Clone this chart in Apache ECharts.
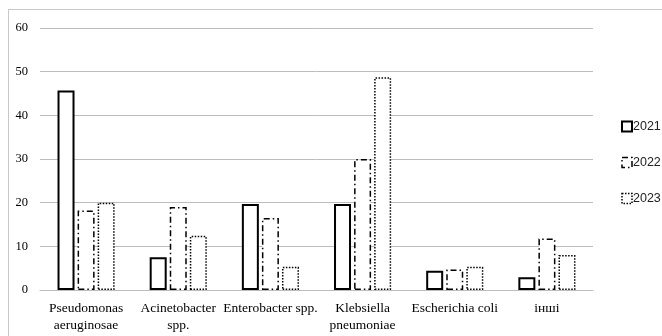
<!DOCTYPE html>
<html>
<head>
<meta charset="utf-8">
<script src="https://cdn.jsdelivr.net/npm/echarts@6/dist/echarts.min.js"></script>
<style>
  html, body { margin: 0; padding: 0; background: #fff; }
  #frame {
    position: absolute; left: 8px; top: 9px; width: 700px; height: 400px;
    border: 1px solid #c8c8c8; box-sizing: border-box;
  }
  #main { position: absolute; left: 0; top: 0; width: 662px; height: 336px; }
</style>
</head>
<body>
<div id="frame"></div>
<div id="main"></div>
<script>
// 类别与各年数值
const categories = ['Pseudomonas\naeruginosae', 'Acinetobacter\nspp.', 'Enterobacter spp.', 'Klebsiella\npneumoniae', 'Escherichia coli', 'інші']
const years = ['2021', '2022', '2023']
const values2021 = [45.7, 7.5, 19.7, 19.7, 4.4, 2.9]
const values2022 = [18.2, 19.0, 16.5, 30.0, 4.7, 11.8]
const values2023 = [20.0, 12.4, 5.3, 48.7, 5.3, 8.0]
const yTicks = [0, 10, 20, 30, 40, 50, 60]

const chart = echarts.init(document.getElementById('main'))

/** 每个系列的边框样式 */
const styles = [
  { borderColor: '#000', borderWidth: 2, borderType: 'solid' },
  { borderColor: '#000', borderWidth: 1.5, borderType: [6, 3, 1.5, 3] },
  { borderColor: '#000', borderWidth: 1.5, borderType: [1.5, 1.5] }
]
const seriesValues = [values2021, values2022, values2023]

const option = {
  animation: false,
  grid: { left: 40, right: 69, top: 28, bottom: 46 },
  legend: {
    orient: 'vertical',
    left: 616,
    top: 115,
    itemGap: 23,
    itemWidth: 10,
    itemHeight: 10,
    textStyle: { fontFamily: 'Liberation Sans', fontSize: 12.5, color: '#222', padding: [0, 0, 0, -4] },
    data: years.map((y, i) => ({ name: y, icon: 'rect', itemStyle: Object.assign({ color: '#fff' }, styles[i]) }))
  },
  xAxis: {
    type: 'category',
    data: categories,
    axisTick: { show: false },
    axisLine: { lineStyle: { color: '#bdbdbd', width: 1 } },
    axisLabel: {
      interval: 0,
      margin: 10,
      fontFamily: 'Liberation Serif',
      fontSize: 13.5,
      lineHeight: 17,
      color: '#000'
    }
  },
  yAxis: {
    type: 'value',
    min: yTicks[0],
    max: yTicks[yTicks.length - 1],
    interval: 10,
    axisLine: { show: false },
    axisTick: { show: false },
    axisLabel: { fontFamily: 'Liberation Serif', fontSize: 12.5, color: '#000', margin: 12 },
    splitLine: { lineStyle: { color: '#bdbdbd', width: 1 } }
  },
  series: years.map((y, i) => ({
    name: y,
    type: 'bar',
    barWidth: 17,
    barGap: '18%',
    data: seriesValues[i],
    itemStyle: Object.assign({ color: '#fff' }, styles[i])
  }))
}

chart.setOption(option)
</script>
</body>
</html>
